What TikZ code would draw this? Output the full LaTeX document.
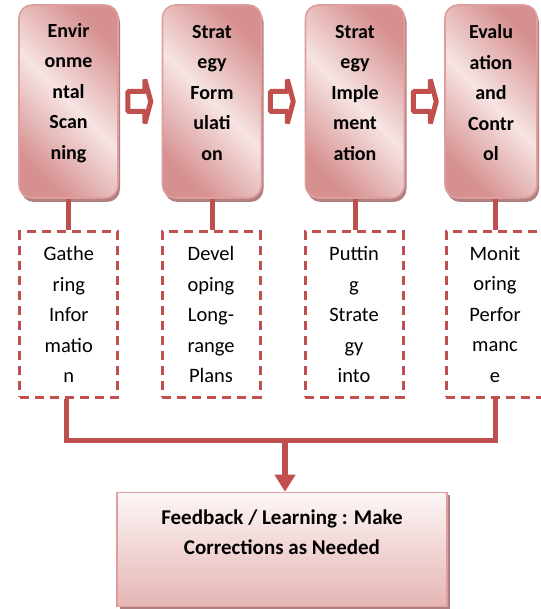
\documentclass[tikz,border=0pt]{standalone}
\usepackage{fontspec}
\setmainfont{Carlito}
\usetikzlibrary{arrows.meta,shadows}
\definecolor{linered}{RGB}{192,80,77}
\definecolor{stagedark}{RGB}{214,144,143}
\definecolor{stagelight}{RGB}{246,228,227}
\definecolor{stageedge}{RGB}{222,158,157}
\definecolor{stageshadow}{RGB}{176,128,128}
\definecolor{feedtop}{RGB}{253,246,246}
\definecolor{feedbottom}{RGB}{229,181,180}
\tikzstyle{stage}=[rectangle, rounded corners=13pt, draw=stageedge, line width=1.6pt, minimum width=99pt, minimum height=193pt, left color=stagedark, right color=stagedark, middle color=stagelight, shading angle=135, drop shadow={shadow xshift=2pt, shadow yshift=-4pt, fill=stageshadow, opacity=1}]
\tikzstyle{stagetext}=[font=\bfseries\fontsize{20}{30.5}\selectfont, align=center]
\tikzstyle{task}=[rectangle, draw=linered, dash pattern=on 9pt off 6pt, line width=3pt, fill=white, minimum width=98pt, minimum height=165pt, font=\fontsize{20.5}{30.5}\selectfont, align=center]
\tikzstyle{feedback}=[rectangle, draw=stageedge, line width=1.6pt, minimum width=330pt, minimum height=114pt, top color=feedtop, bottom color=feedbottom, drop shadow={shadow xshift=3pt, shadow yshift=-2pt, fill=stageshadow, opacity=1}]
\tikzstyle{link}=[draw=linered, line width=5pt]
\tikzstyle{stepper}=[draw=linered, fill=white, line width=5pt, line join=bevel]

\begin{document}
\begin{tikzpicture}[x=1pt, y=-1pt]
                    \useasboundingbox (0,0) rectangle (540,609);
                    \node[stage] (s1) at (68.5, 101.5) {};
                    \node[stage] (s2) at (212,  101.5) {};
                    \node[stage] (s3) at (355,  101.5) {};
                    \node[stage, minimum width=92pt] (s4) at (491, 101.5) {};
                    \node[stagetext] (s1txt) at (68.5, 93) {Envir\\onme\\ntal\\Scan\\ning};
                    \node[stagetext] (s2txt) at (212,  93) {Strat\\egy\\Form\\ulati\\on};
                    \node[stagetext] (s3txt) at (355,  93) {Strat\\egy\\Imple\\ment\\ation};
                    \node[stagetext] (s4txt) at (491,  93) {Evalu\\ation\\and\\Contr\\ol};
                    \draw[stepper, shift={(s1.east)}] (9,-10) -- (26,-10) -- (26,-22) -- (32,0) -- (26,22) -- (26,10) -- (9,10) -- cycle;
                    \draw[stepper, shift={(s2.east)}] (8,-10) -- (25,-10) -- (25,-22) -- (31,0) -- (25,22) -- (25,10) -- (8,10) -- cycle;
                    \draw[stepper, shift={(s3.east)}] (8,-10) -- (25,-10) -- (25,-22) -- (31,0) -- (25,22) -- (25,10) -- (8,10) -- cycle;
                    \node[task] (t1) at (68.8, 314.5) {Gathe\\ring\\Infor\\matio\\n};
                    \node[task] (t2) at (211,  314.5) {Devel\\oping\\Long-\\range\\Plans};
                    \node[task] (t3) at (354,  314.5) {Puttin\\g\\Strate\\gy\\into};
                    \node[task] (t4) at (495,  314.5) {Monit\\oring\\Perfor\\manc\\e};
                    \draw[link] (s1.south) to (s1.south |- t1.north) (s2.south) to (s2.south |- t2.north);
                    \draw[link] (s3.south) to (s3.south |- t3.north) (s4.south -| t4.north) to (t4.north);
                    \node[feedback] (fb) at (282, 549.5) {};
                    \node[font=\bfseries\fontsize{21}{30}\selectfont, align=center] (fbtxt) at (282, 532) {Feedback / Learning : Make\\Corrections as Needed};
                    \coordinate (join) at (285, 440);
                    \draw[link, line join=miter] ([xshift=-2.5pt]t1.south) -- ([xshift=-2.5pt]t1.south |- join) -| (t4.south);
                    \draw[link, line width=6pt, -{Triangle[width=20pt, length=17pt]}] (join) to (join |- fb.north);
                \end{tikzpicture}
\end{document}
